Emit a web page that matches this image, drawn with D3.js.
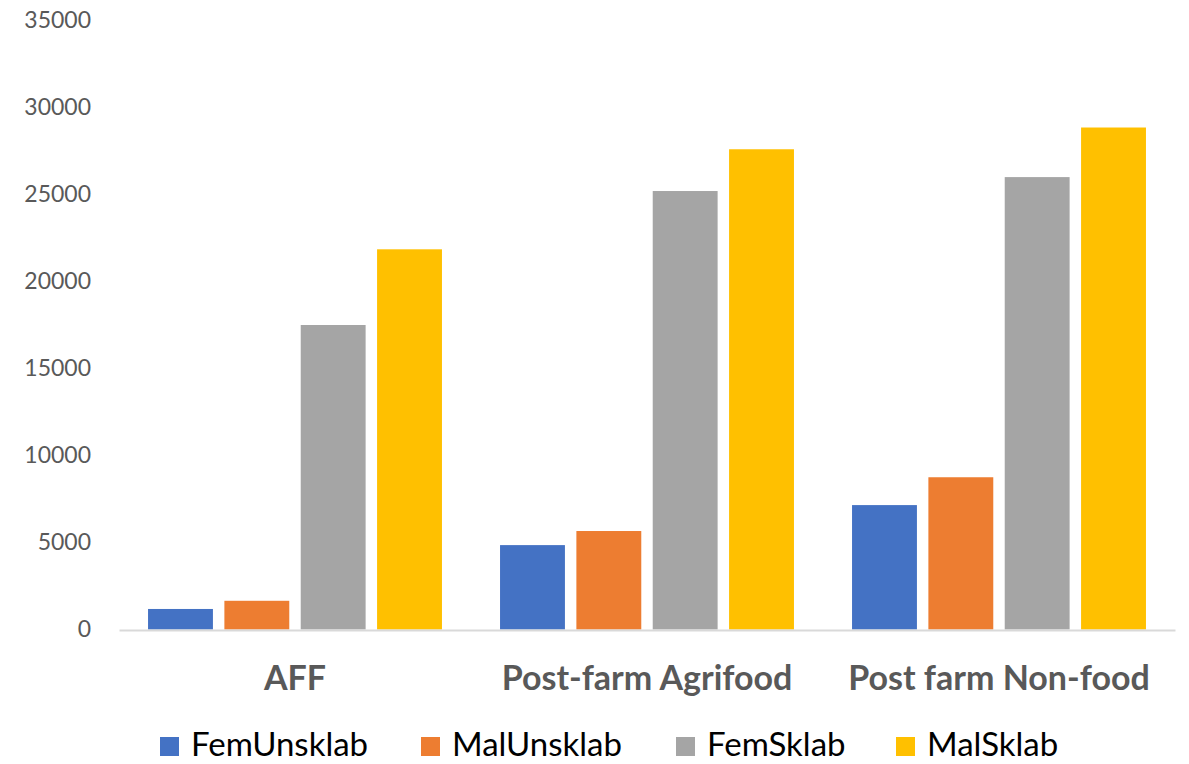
<!DOCTYPE html>
<html>
<head>
<meta charset="utf-8">
<script src="https://cdn.jsdelivr.net/npm/d3@7"></script>
<style>
  html, body { margin: 0; padding: 0; background: #fff; }
  svg { display: block; }
</style>
</head>
<body>
<svg id="chart" width="1189" height="764"></svg>
<script>
// Sectors along the x axis
const categories = ["AFF", "Post-farm Agrifood", "Post farm Non-food"];
// Series (labour type by sex)
const seriesNames = ["FemUnsklab", "MalUnsklab", "FemSklab", "MalSklab"];
const seriesColors = ["#4472C4", "#ED7D31", "#A5A5A5", "#FFC000"];
// Values per series, one entry per sector
const femUnsklab = [1180, 4850, 7150];
const malUnsklab = [1650, 5660, 8750];
const femSklab = [17500, 25200, 26000];
const malSklab = [21850, 27600, 28850];
const yTicks = [0, 5000, 10000, 15000, 20000, 25000, 30000, 35000];

const seriesValues = [femUnsklab, malUnsklab, femSklab, malSklab];

const svg = d3.select("#chart");
const plot = { left: 119, right: 1175, top: 20.5, bottom: 629.5 };

const x0 = d3.scaleBand()
  .domain(categories)
  .range([plot.left, plot.right])
  .paddingInner(0.165)
  .paddingOuter(0.0825);

const x1 = d3.scaleBand()
  .domain(seriesNames)
  .range([0, x0.bandwidth()])
  .paddingInner(0.15);

const y = d3.scaleLinear()
  .domain([0, 35000])
  .range([plot.bottom, plot.top]);

// Bars
const groups = svg.append("g")
  .selectAll("g")
  .data(categories)
  .join("g")
  .attr("transform", d => `translate(${x0(d)},0)`);

groups.selectAll("rect")
  .data((c, i) => seriesNames.map((s, k) => ({ s, k, v: seriesValues[k][i] })))
  .join("rect")
  .attr("x", d => x1(d.s))
  .attr("y", d => y(d.v))
  .attr("width", x1.bandwidth())
  .attr("height", d => y(0) - y(d.v))
  .attr("fill", d => seriesColors[d.k]);

// Y axis labels (no axis line)
const yAxis = svg.append("g")
  .attr("transform", `translate(${plot.left - 28},0)`)
  .call(d3.axisLeft(y).tickValues(yTicks).tickSize(0).tickPadding(0).tickFormat(d3.format("d")));
yAxis.select(".domain").remove();
yAxis.selectAll("text")
  .attr("fill", "#595959")
  .style("font-family", "Lato, 'Open Sans', sans-serif")
  .style("font-size", "23px");

// X axis baseline and category labels
const xAxis = svg.append("g")
  .attr("transform", `translate(0,${plot.bottom + 0.5})`)
  .call(d3.axisBottom(x0).tickSize(0).tickPadding(36));
xAxis.select(".domain")
  .attr("stroke", "#D9D9D9")
  .attr("stroke-width", 2);
xAxis.selectAll("text")
  .attr("fill", "#595959")
  .style("font-family", "Lato, 'Open Sans', sans-serif")
  .style("font-weight", "bold")
  .style("font-size", "34px");

// Legend
const legendX = [160, 421, 676, 896];
const legend = svg.append("g")
  .selectAll("g")
  .data(seriesNames)
  .join("g")
  .attr("transform", (d, i) => `translate(${legendX[i]},737)`);
legend.append("rect")
  .attr("width", 19)
  .attr("height", 19)
  .attr("fill", (d, i) => seriesColors[i]);
legend.append("text")
  .attr("x", 31)
  .attr("y", 19)
  .attr("fill", "#000")
  .style("font-family", "Lato, 'Open Sans', sans-serif")
  .style("font-size", "33px")
  .text(d => d);
</script>
</body>
</html>
